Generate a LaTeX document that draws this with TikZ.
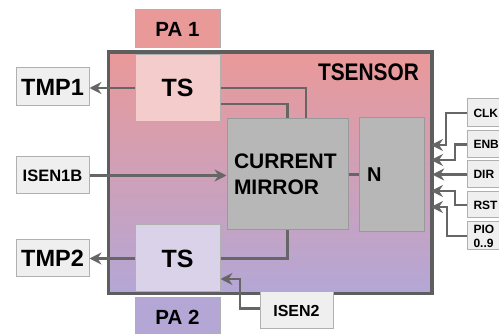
\documentclass[tikz,border=0pt]{standalone}
\usepackage{fontspec}
\setmainfont{Liberation Sans}
\usetikzlibrary{arrows.meta,calc}
\definecolor{pared}{HTML}{EA9999}
\definecolor{papurple}{HTML}{B4A7D6}
\definecolor{tsred}{HTML}{F4CCCC}
\definecolor{tspurple}{HTML}{D9D2E9}
\definecolor{blockgray}{HTML}{B7B7B7}
\definecolor{labelgray}{HTML}{EFEFEF}
\definecolor{wirecol}{HTML}{666666}
\definecolor{edgegray}{HTML}{B0B0B0}
\definecolor{mainedge}{HTML}{5E5E5E}
\tikzset{
  box/.style={draw=edgegray, line width=1pt, inner sep=0pt, font=\bfseries},
  lbl/.style={box, fill=labelgray, minimum width=73pt},
  pin/.style={box, fill=labelgray, anchor=west, inner xsep=6pt, text width=24pt, align=left,
     font=\bfseries\fontsize{12}{14}\selectfont},
  wire/.style={draw=wirecol, line width=2.4pt},
  arr/.style={wire, -{Stealth[length=12pt,width=12pt,inset=4pt]}},
}
\begin{document}
\begin{tikzpicture}[x=1pt,y=-1pt]
\useasboundingbox (0,0) rectangle (499,334);
% main block
\node[draw=mainedge, line width=2.5pt, top color=pared, bottom color=papurple,
      minimum width=322pt, minimum height=240pt, inner sep=0pt] (main) at (270,173) {};
\node[font=\bfseries\fontsize{24}{24}\selectfont\addfontfeature{FakeStretch=0.87}] (title) at (368.5,72.5) {TSENSOR};
% PA and TS blocks
\node[box, fill=pared, minimum width=85pt, minimum height=38pt, font=\bfseries\fontsize{20.5}{20}\selectfont] (PA1) at (177.5,29) {PA 1};
\node[box, fill=tsred, minimum width=85pt, minimum height=67pt, font=\bfseries\fontsize{25}{25}\selectfont] (TS1) at (177.5,88) {TS};
\node[box, fill=tspurple, minimum width=85pt, minimum height=67pt, font=\bfseries\fontsize{25}{25}\selectfont] (TS2) at (177.5,258.5) {TS};
\node[box, fill=papurple, minimum width=85pt, minimum height=38pt, font=\bfseries\fontsize{20.5}{20}\selectfont] (PA2) at (177.5,317) {PA 2};
\draw[draw=mainedge, line width=2.5pt] (main.north west) rectangle (main.south east);
% inner blocks
\node[box, draw=gray!80, fill=blockgray, minimum width=121pt, minimum height=111pt, text width=107pt,
      inner xsep=7pt, align=left, font=\bfseries\fontsize{21}{26}\selectfont] (CM) at (287.5,174.5) {CURRENT\\MIRROR};
\node[box, draw=gray!80, fill=blockgray, minimum width=65pt, minimum height=114pt, text width=49pt,
      inner xsep=8pt, align=left, font=\bfseries\fontsize{20}{20}\selectfont] (N) at (391.5,175) {N};
% outside labels
\node[lbl, minimum height=38pt, font=\bfseries\fontsize{23.5}{24}\selectfont] (TMP1) at (52.5,87) {TMP1};
\node[lbl, minimum height=37pt, font=\bfseries\fontsize{16.5}{17}\selectfont] (ISEN1B) at (52.5,175.5) {ISEN1B};
\node[lbl, minimum height=37pt, font=\bfseries\fontsize{23.5}{24}\selectfont] (TMP2) at (52.5,258.5) {TMP2};
\node[lbl, minimum height=37pt, font=\bfseries\fontsize{16}{17}\selectfont] (ISEN2) at (296.5,310.5) {ISEN2};
\node[pin, minimum height=28pt] (CLK) at (467,113) {CLK};
\node[pin, minimum height=27pt] (ENB) at (467,144.5) {ENB};
\node[pin, minimum height=27pt] (DIR) at (467,174.5) {DIR};
\node[pin, minimum height=26pt] (RST) at (467,205) {RST};
\node[pin, minimum height=28pt] (PIO) at (467,236) {PIO\\0..9};
% connectors
\draw[arr] (TS1.west) -- (TS1.west -| TMP1.east);
\draw[wire] (TS1.east) -| ([xshift=18.5pt]CM.north);
\draw[wire] ([yshift=-16pt]TS1.east) -| (CM.north);
\draw[arr] (ISEN1B.east) -- (ISEN1B.east -| CM.west);
\draw[wire] (CM.east) -- (CM.east -| N.west);
\draw[arr] (TS2.west) -- (TS2.west -| TMP2.east);
\draw[wire] (TS2.east) -| (CM.south);
\coordinate (i2) at (240,279);
\draw[arr] ([yshift=2pt]ISEN2.west) -| (i2) -- (i2 -| TS2.east);
\coordinate (pclk) at (431,145);
\coordinate (penb) at (431,160);
\coordinate (prst) at (431,191);
\coordinate (ppio) at (431,207);
\draw[arr] (CLK.west) -| ([xshift=15pt]pclk) -- (pclk);
\draw[arr] (ENB.west) -| ([xshift=24pt]penb) -- (penb);
\draw[arr] (DIR.west) -- (DIR.west -| main.east);
\draw[arr] (RST.west) -| ([xshift=24pt]prst) -- (prst);
\draw[arr] (PIO.west) -| ([xshift=16pt]ppio) -- (ppio);
\end{tikzpicture}
\end{document}
